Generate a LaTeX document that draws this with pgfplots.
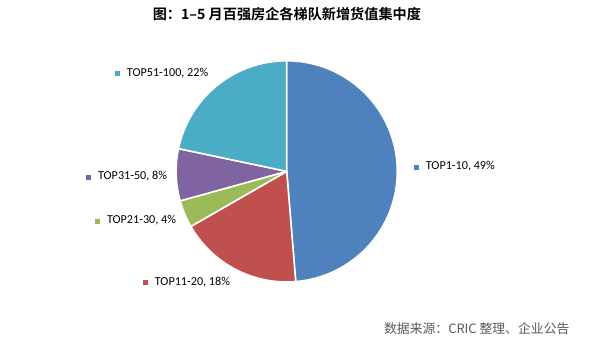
\documentclass[border=0pt]{standalone}
\usepackage{fontspec}
\setmainfont{Carlito}
\newfontfamily\cjk{Noto Sans CJK SC}
\newfontfamily\cjkb{Noto Sans CJK SC Bold}
\usepackage{pgfplots}
\usepackage{pgfplotstable}
\pgfplotsset{compat=1.18}
\definecolor{c0}{HTML}{4F81BD}
\definecolor{c1}{HTML}{C0504D}
\definecolor{c2}{HTML}{9BBB59}
\definecolor{c3}{HTML}{8064A2}
\definecolor{c4}{HTML}{4BACC6}
\definecolor{srcgray}{HTML}{595959}
\pgfplotstableread{
idx value
0 48.7
1 18.0
2 4.0
3 7.6
4 21.7
}\piedata
\begin{document}
\gdef\cum{0}
\pgfplotsforeachungrouped \i in {0,...,4}{%
  \pgfplotstablegetelem{\i}{value}\of\piedata
  \pgfmathsetmacro\start{90-3.6*\cum}%
  \pgfmathsetmacro\newcum{\cum+\pgfplotsretval}%
  \pgfmathsetmacro\stop{90-3.6*\newcum}%
  \expandafter\xdef\csname sa\i\endcsname{\start}%
  \expandafter\xdef\csname ea\i\endcsname{\stop}%
  \xdef\cum{\newcum}%
}%
\begin{tikzpicture}
\path[use as bounding box] (0,0) rectangle (611bp,351bp);
\begin{axis}[
  at={(0,0)}, anchor=south west,
  width=611bp, height=351bp, scale only axis,
  xmin=0, xmax=611, ymin=0, ymax=351,
  hide axis, clip=false,
]
\pgfplotsinvokeforeach{0,...,4}{
  \filldraw[fill=c#1, draw=white, line width=1.6pt, line join=round]
    (axis cs:285.5,179) -- ++(\csname sa#1\endcsname:111bp)
    arc[start angle=\csname sa#1\endcsname, end angle=\csname ea#1\endcsname, radius=111bp] -- cycle;
}
\tikzset{lab/.style={anchor=west, inner sep=0pt, font=\fontsize{12.2bp}{13bp}\selectfont}}
\node[lab] at (axis cs:413,184) {\textcolor{c0}{\rule{5bp}{5bp}}\hspace{7bp}TOP1-10, 49\%};
\node[lab] at (axis cs:141,68) {\textcolor{c1}{\rule{5bp}{5bp}}\hspace{7bp}TOP11-20, 18\%};
\node[lab] at (axis cs:93,130) {\textcolor{c2}{\rule{5bp}{5bp}}\hspace{7bp}TOP21-30, 4\%};
\node[lab] at (axis cs:84,174) {\textcolor{c3}{\rule{5bp}{5bp}}\hspace{7bp}TOP31-50, 8\%};
\node[lab] at (axis cs:113,278) {\textcolor{c4}{\rule{5bp}{5bp}}\hspace{7bp}TOP51-100, 22\%};
\node[inner sep=0pt, font=\cjkb\fontsize{14.2bp}{16bp}\selectfont] at (axis cs:285.7,337) {图：1–5 月百强房企各梯队新增货值集中度};
\node[anchor=west, inner sep=0pt, text=srcgray, font=\cjk\fontsize{12.9bp}{15bp}\selectfont] at (axis cs:383,21) {数据来源：CRIC 整理、企业公告};
\end{axis}
\end{tikzpicture}
\end{document}
